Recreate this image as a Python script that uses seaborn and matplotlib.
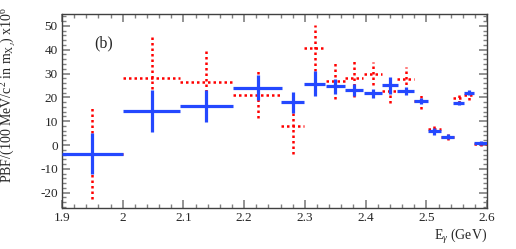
import numpy as np
import matplotlib
matplotlib.use("Agg")
import matplotlib.pyplot as plt
from matplotlib.ticker import MultipleLocator, FuncFormatter
import seaborn as sns

# bin centres and half widths (GeV)
e_gamma = [1.95, 2.048, 2.138, 2.222, 2.28, 2.316, 2.35, 2.381, 2.412, 2.44,
           2.466, 2.491, 2.513, 2.535, 2.553, 2.57, 2.59]
half_width = [0.05, 0.047, 0.044, 0.04, 0.019, 0.017, 0.016, 0.015, 0.015, 0.013,
              0.014, 0.011, 0.011, 0.011, 0.0085, 0.008, 0.012]

# blue (solid) series
blue_y = [-3.6, 14.3, 16.3, 24.0, 18.0, 25.7, 24.6, 23.0, 21.7, 25.0,
          22.6, 18.5, 5.7, 3.5, 17.5, 22.0, 0.7]
blue_err = [8.6, 8.9, 6.8, 5.2, 4.4, 5.3, 3.3, 2.5, 2.0, 3.5,
            1.7, 1.4, 1.5, 1.0, 0.8, 1.0, 0.8]

# red (dotted) series
red_y = [-3.6, 28.0, 26.4, 21.1, 8.0, 40.7, 27.0, 28.0, 30.0, 22.6,
         27.8, 18.3, 6.7, 3.5, 19.7, 20.8, 0.5]
red_err = [19.0, 18.5, 13.5, 9.8, 11.8, 9.7, 7.7, 7.7, 5.0, 5.0,
           4.8, 3.3, 2.2, 1.2, 2.0, 2.0, 0.8]

sns.set_style("ticks")
plt.rcParams["font.family"] = ["Liberation Serif", "DejaVu Serif"]
plt.rcParams["mathtext.fontset"] = "custom"
plt.rcParams["mathtext.rm"] = "Liberation Serif"
plt.rcParams["mathtext.it"] = "Liberation Serif:italic"
plt.rcParams["axes.unicode_minus"] = False

fig = plt.figure(figsize=(5.16, 2.49), dpi=100)
ax = fig.add_axes([0.120, 0.165, 0.824, 0.779])

red = ax.errorbar(e_gamma, red_y, xerr=half_width, yerr=red_err, fmt="none",
                  ecolor="#ff0000", elinewidth=1.8, capsize=0, zorder=2)
for lc in red[2]:
    lc.set_linestyle((0, (1, 1.2)))
    lc.set_capstyle("butt")

ax.errorbar(e_gamma, blue_y, xerr=half_width, yerr=blue_err, fmt="none",
            ecolor="#2448ff", elinewidth=2.3, capsize=0, zorder=3)

ax.set_xlim(1.9, 2.6)
ax.set_ylim(-26.4, 55)

ax.xaxis.set_major_locator(MultipleLocator(0.1))
ax.xaxis.set_minor_locator(MultipleLocator(0.02))
ax.yaxis.set_major_locator(MultipleLocator(10))
ax.yaxis.set_minor_locator(MultipleLocator(2))
ax.xaxis.set_major_formatter(FuncFormatter(lambda v, p: "%g" % round(v, 2)))
ax.yaxis.set_major_formatter(FuncFormatter(lambda v, p: "%g" % v))

ax.tick_params(which="both", direction="in", top=True, right=True,
               color="#808080", labelsize=9.5, pad=3)
ax.tick_params(which="major", length=6, width=1.2)
ax.tick_params(which="minor", length=3, width=1)
for sp in ax.spines.values():
    sp.set_color("#404040")
    sp.set_linewidth(1)

ax.set_ylabel(r"PBF/(100 MeV/c$^2$ in m$_{\mathrm{X}_J}$) x10$^6$", fontsize=10)
ax.yaxis.set_label_coords(-0.104, 0.585)
ax.set_xlabel(r"E$_\gamma$ (GeV)", fontsize=10, loc="right", labelpad=2)

ax.text(0.077, 0.83, "(b)", transform=ax.transAxes, fontsize=11.5)

fig.savefig("out.png", dpi=100)
